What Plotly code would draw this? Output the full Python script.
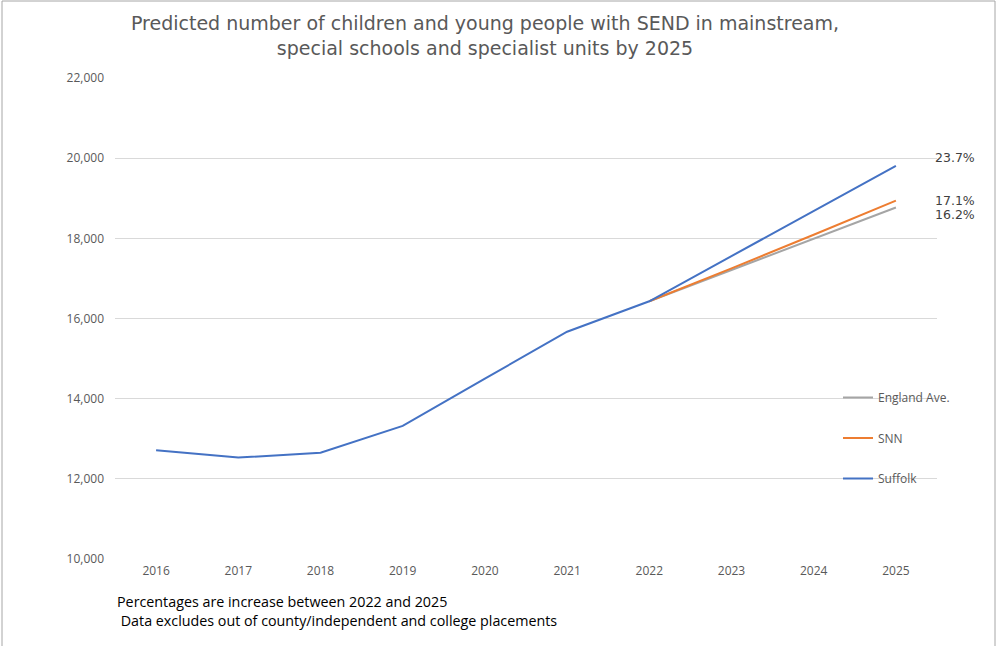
import plotly.graph_objects as go

years = ["2016", "2017", "2018", "2019", "2020", "2021", "2022", "2023", "2024", "2025"]
suffolk = [12710, 12530, 12650, 13320, 14500, 15670, 16430, 17550, 18680, 19810]
snn = [None, None, None, None, None, None, 16430, 17250, 18090, 18940]
england = [None, None, None, None, None, None, 16430, 17210, 17990, 18770]
pct_labels = {"Suffolk": "23.7%", "SNN": "17.1%", "England Ave.": "16.2%"}
y_ticks = [10000, 12000, 14000, 16000, 18000, 20000, 22000]

W, H = 997, 646
ML, MR, MT, MB = 115, 60, 78, 87
PW, PH = W - ML - MR, H - MT - MB

def px_x(x):
    return (x - ML) / PW

def px_y(y):
    return (H - MB - y) / PH

FONT = "Open Sans, Liberation Sans, sans-serif"

fig = go.Figure()
series = [
    ("England Ave.", england, "#A5A5A5"),
    ("SNN", snn, "#ED7D31"),
    ("Suffolk", suffolk, "#4472C4"),
]
for name, vals, col in series:
    fig.add_trace(go.Scatter(
        x=years, y=vals, name=name, mode="lines",
        line=dict(color=col, width=2), legendgroup=name,
        connectgaps=False,
    ))

# percentage labels next to line ends
shifts = {"Suffolk": 8, "SNN": 0, "England Ave.": -7}
last = len(years) - 1
for name, vals, col in series:
    fig.add_annotation(
        x=last, y=vals[-1], text=pct_labels[name],
        xref="x", yref="y", showarrow=False, xanchor="left", yanchor="middle",
        xshift=37, yshift=shifts[name],
        font=dict(family="DejaVu Sans, sans-serif", size=12.5, color="#404040"),
    )

fig.add_annotation(
    x=px_x(115), y=px_y(611), xref="paper", yref="paper",
    text="Percentages are increase between 2022 and 2025<br> Data excludes out of county/independent and college placements",
    showarrow=False, xanchor="left", yanchor="middle", align="left",
    font=dict(family=FONT, size=14.3, color="#000000"),
)

# outer border
fig.add_shape(type="rect", xref="paper", yref="paper",
              x0=px_x(2), x1=px_x(995), y0=px_y(660), y1=px_y(1),
              line=dict(color="#A6A6A6", width=1), fillcolor="rgba(0,0,0,0)",
              layer="below")

fig.update_layout(
    width=W, height=H,
    margin=dict(l=ML, r=MR, t=MT, b=MB),
    paper_bgcolor="white", plot_bgcolor="white",
    title=dict(
        text="Predicted number of children and young people with SEND in mainstream,<br>special schools and specialist units by 2025",
        x=485 / W, xanchor="center", xref="container",
        y=1 - 30 / H, yanchor="middle", yref="container",
        font=dict(family="DejaVu Sans, sans-serif", size=19, color="#595959"),
    ),
    showlegend=True,
    legend=dict(
        x=px_x(838), y=px_y(383), xanchor="left", yanchor="top",
        bgcolor="rgba(0,0,0,0)", font=dict(family=FONT, size=12, color="#595959"),
        tracegroupgap=21.5, itemwidth=30, traceorder="grouped",
    ),
    xaxis=dict(
        type="category", showgrid=False, showline=False, zeroline=False,
        ticks="", tickfont=dict(family=FONT, size=12, color="#595959"),
        ticklabelstandoff=3, range=[-0.5, 9.5],
    ),
    yaxis=dict(
        range=[10000, 22000], tickvals=y_ticks, tickformat=",",
        showgrid=True, gridcolor="#D9D9D9", gridwidth=1, zeroline=False,
        showline=False, ticks="", tickfont=dict(family=FONT, size=12, color="#595959"),
        ticklabelstandoff=10,
    ),
)

fig.write_html("out.html")
